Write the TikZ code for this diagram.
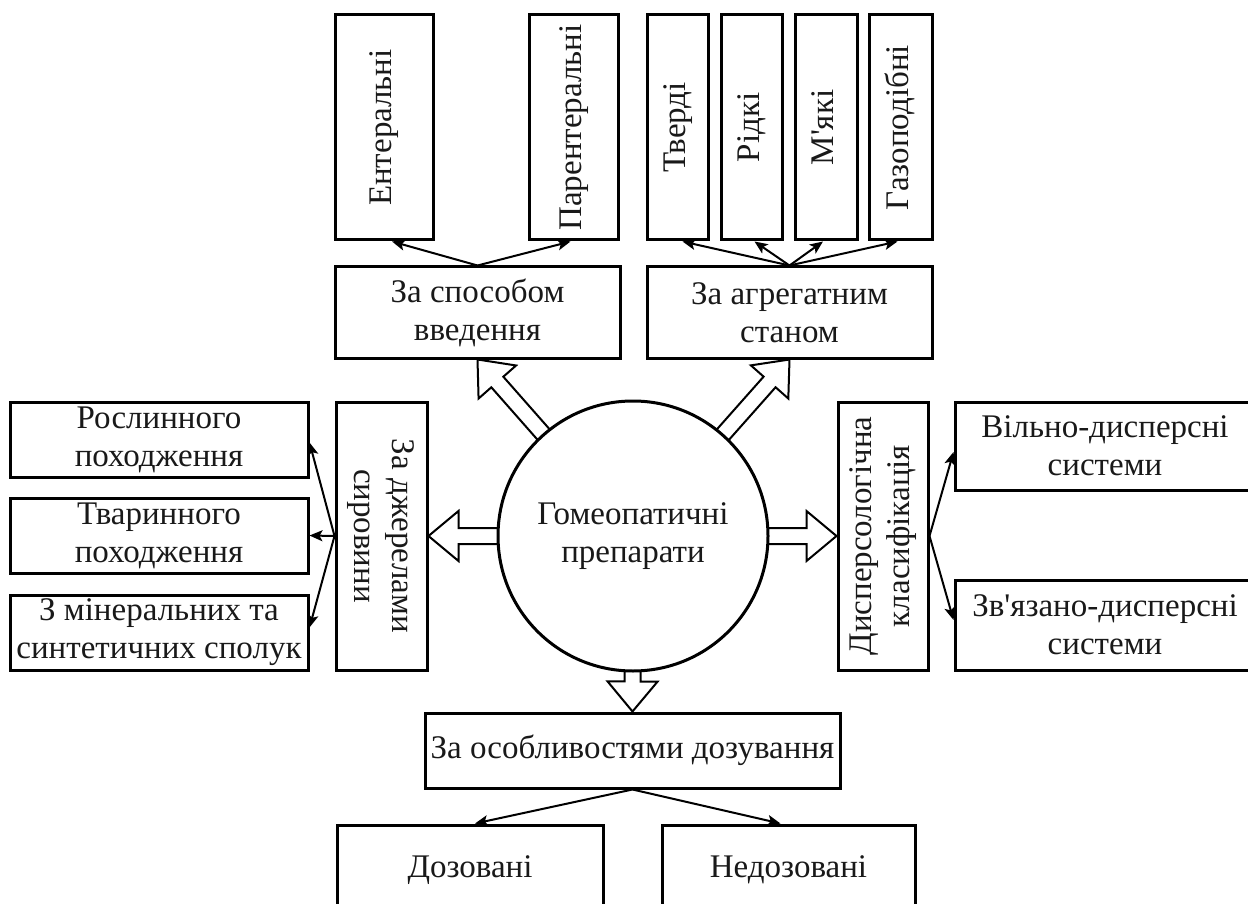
\documentclass[tikz,border=0pt]{standalone}
\usepackage{fontspec}
\setmainfont{Liberation Serif}
\usepackage{graphicx}
\usetikzlibrary{arrows.meta,calc,backgrounds}
\newcommand\hollowarrow[2]{%
  \coordinate (hH) at ($(#2)!30pt!(#1)$);
  \draw[hollow] ($(#1)!8pt!90:(#2)$) -- ($(hH)!8pt!90:(#2)$) -- ($(hH)!25pt!90:(#2)$) -- (#2)
    -- ($(hH)!25pt!-90:(#2)$) -- ($(hH)!8pt!-90:(#2)$) -- ($(#1)!8pt!-90:(#2)$) -- cycle;
}
\newcommand\vtext[2][90]{\rotatebox{#1}{\begin{tabular}{@{}c@{}}#2\end{tabular}}}
\begin{document}
\begin{tikzpicture}[x=1pt,y=-1pt,
  box/.style={draw, line width=3pt, inner sep=0pt, align=center,
    font=\fontsize{33}{38}\selectfont, text=black!90},
  arr/.style={line width=2pt, -{Stealth[length=13pt,width=11pt,inset=3pt]}},
  hollow/.style={line width=2pt, fill=white, line join=miter}]
\useasboundingbox (0,0) rectangle (1248,904);

% top-left group
\node[box, minimum width=98, minimum height=225] (ent) at (384,127.5) {\vtext{Ентеральні}};
\node[box, minimum width=89, minimum height=225] (par) at (573.5,127.5) {\vtext{Парентеральні}};
\node[box, minimum width=285, minimum height=91] (spos) at (477.5,312.5) {За способом\\введення};

% top-right group
\node[box, minimum width=61, minimum height=225] (tv) at (677.5,127.5) {\vtext{Тверді}};
\node[box, minimum width=61, minimum height=225] (rid) at (751.5,127.5) {\vtext{Рідкі}};
\node[box, minimum width=62, minimum height=225] (myak) at (826,127.5) {\vtext{М\textquotesingle які}};
\node[box, minimum width=63, minimum height=225] (gaz) at (900.5,127.5) {\vtext{Газоподібні}};
\node[box, minimum width=285, minimum height=91] (agr) at (789.5,312.5) {За агрегатним\\станом};

% left group
\node[box, minimum width=298, minimum height=75] (rosl) at (159,439.5) {Рослинного\\походження};
\node[box, minimum width=298, minimum height=75] (tvar) at (159,535.5) {Тваринного\\походження};
\node[box, minimum width=298, minimum height=75] (miner) at (159,632.5) {З мінеральних та\\синтетичних сполук};
\node[box, minimum width=91, minimum height=268] (dzher) at (381.5,536) {\vtext[-90]{За джерелами\\сировини}};

% right group
\node[box, minimum width=90, minimum height=268] (disp) at (883,536) {\vtext{Дисперсологічна\\класифікація}};
\node[box, minimum width=300, minimum height=88] (vilno) at (1105,446) {Вільно-дисперсні\\системи};
\node[box, minimum width=300, minimum height=90] (zvyaz) at (1105,625) {Зв\textquotesingle язано-дисперсні\\системи};

% bottom group
\node[box, minimum width=415, minimum height=75] (osob) at (632.5,750.5) {За особливостями дозування};
\node[box, minimum width=266, minimum height=90] (doz) at (470,870) {\strut Дозовані};
\node[box, minimum width=253, minimum height=90] (nedoz) at (788.5,870) {\strut Недозовані};

% centre
\node[box, circle, fill=white, minimum size=270] (c) at (633,536) {Гомеопатичні\\препарати};

% hollow arrows
\begin{pgfonlayer}{background}
  \coordinate (h1) at ($(c.center)!125pt!(spos.south)$);
  \hollowarrow{h1}{spos.south}
  \coordinate (h2) at ($(c.center)!125pt!(agr.south)$);
  \hollowarrow{h2}{agr.south}
  \coordinate (h3) at ($(c.center)!125pt!(dzher.east)$);
  \hollowarrow{h3}{dzher.east}
  \coordinate (h4) at ($(c.center)!125pt!(disp.west)$);
  \hollowarrow{h4}{disp.west}
  \coordinate (h5) at ($(c.center)!125pt!(osob.north)$);
  \hollowarrow{h5}{osob.north}
\end{pgfonlayer}

% thin arrows
\draw[arr] (spos.north) -- ([xshift=8pt]ent.south);
\draw[arr] (spos.north) -- ([xshift=-3pt]par.south);
\draw[arr] (agr.north) -- ([xshift=5pt]tv.south);
\draw[arr] (agr.north) -- ([xshift=3pt]rid.south);
\draw[arr] (agr.north) -- ([xshift=-3pt]myak.south);
\draw[arr] (agr.north) -- ([xshift=-3pt]gaz.south);
\draw[arr] (dzher.west) -- ([yshift=-3pt]rosl.east);
\draw[arr] (dzher.west) -- (tvar.east);
\draw[arr] (dzher.west) -- ([yshift=5pt]miner.east);
\draw[arr] (disp.east) -- ([yshift=-6pt]vilno.west);
\draw[arr] (disp.east) -- ([yshift=5pt]zvyaz.west);
\draw[arr] (osob.south) -- ([xshift=5pt]doz.north);
\draw[arr] (osob.south) -- ([xshift=-8pt]nedoz.north);
\end{tikzpicture}
\end{document}
